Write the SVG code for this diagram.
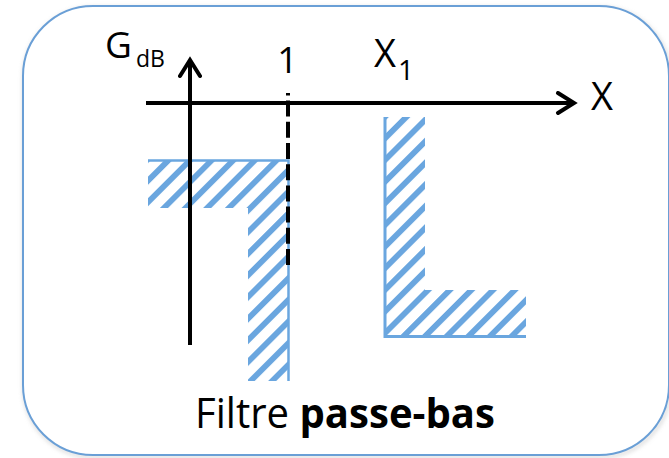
<svg xmlns="http://www.w3.org/2000/svg" width="669" height="458" viewBox="0 0 669 458">
  <style>
    .ax { stroke: #000; stroke-width: 4; fill: none; }
    .edge { stroke: #6aa6df; fill: none; }
    .t { font-family: "Open Sans", "Noto Sans", sans-serif; fill: #000; }
  </style>
  <defs>
    <pattern id="hatch" patternUnits="userSpaceOnUse" width="15.3" height="20" patternTransform="rotate(45)">
      <rect x="0" y="0" width="5.8" height="20" fill="#6aa6df"/>
    </pattern>
    <filter id="sh" x="-5%" y="-5%" width="110%" height="110%">
      <feGaussianBlur stdDeviation="2"/>
    </filter>
    <marker id="arr" viewBox="0 0 24 24" markerWidth="24" markerHeight="24" refX="20" refY="12" orient="auto" markerUnits="userSpaceOnUse">
      <path d="M 4 2 L 20 12 L 4 22" fill="none" stroke="#000" stroke-width="4" stroke-linecap="round" stroke-linejoin="miter"/>
    </marker>
  </defs>

  <g id="frame">
    <rect x="24" y="8" width="646" height="449" rx="70" ry="70" fill="none" stroke="#bbb" stroke-width="3" filter="url(#sh)" opacity="0.6"/>
    <rect x="23" y="6" width="646" height="449" rx="70" ry="70" fill="#fff" stroke="#6a9fd6" stroke-width="2"/>
  </g>

  <g id="zone-passband">
    <path d="M148 160 H289 V381 H248 V208 H148 Z" fill="url(#hatch)"/>
    <path class="edge" d="M148 160.5 H288.5 V381" stroke-width="2.5"/>
  </g>

  <g id="zone-stopband">
    <path d="M384 117 H425 V290 H526 V337 H384 Z" fill="url(#hatch)"/>
    <path class="edge" d="M385 117 V336.5 H526" stroke-width="3"/>
  </g>

  <g id="connectors">
    <line class="ax" x1="146" y1="103" x2="574" y2="103" marker-end="url(#arr)"/>
    <line class="ax" x1="190" y1="345" x2="190" y2="60" marker-end="url(#arr)"/>
    <line x1="288" y1="93" x2="288" y2="265" stroke="#000" stroke-width="4" stroke-dasharray="16 5.2" stroke-dashoffset="13.6"/>
  </g>

  <g id="labels">
    <text class="t" x="105" y="58" font-size="37">G</text>
    <text class="t" x="136" y="67" font-size="23">dB</text>
    <text class="t" x="287.5" y="73" font-size="36" text-anchor="middle">1</text>
    <text class="t" x="374" y="67" font-size="38">X</text>
    <text class="t" x="398" y="80" font-size="28">1</text>
    <text class="t" x="591" y="110" font-size="38">X</text>
    <text class="t" x="195" y="428" font-size="42" textLength="300" lengthAdjust="spacingAndGlyphs">Filtre <tspan font-weight="bold">passe-bas</tspan></text>
  </g>
</svg>
